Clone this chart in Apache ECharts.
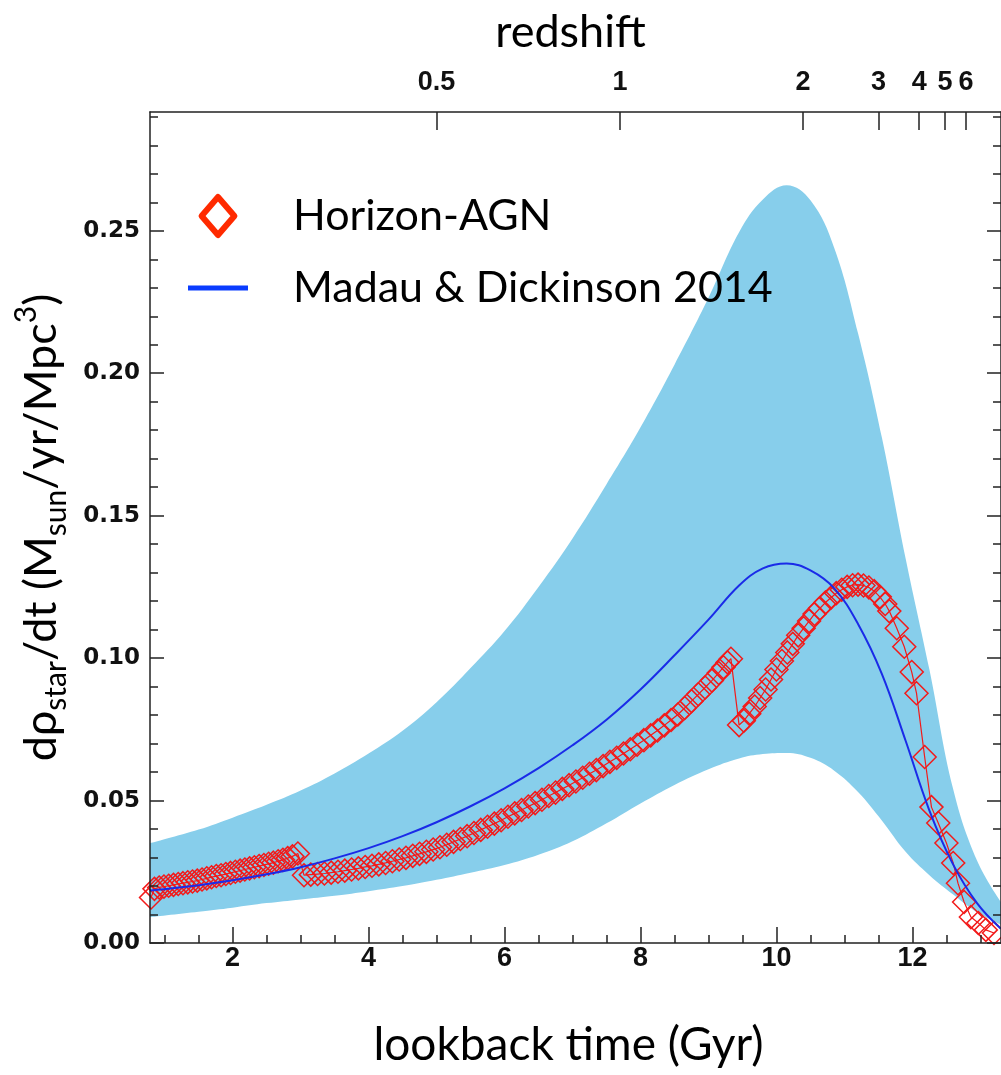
<!DOCTYPE html>
<html>
<head>
<meta charset="utf-8">
<script src="https://cdn.jsdelivr.net/npm/echarts@6/dist/echarts.min.js"></script>
<style>
html,body{margin:0;padding:0;background:#fff;}
#chart{width:1001px;height:1075px;}
</style>
</head>
<body>
<div id="chart"></div>
<script>
// ---- Data ----
// Shaded band (uncertainty envelope)
const bandTime  = [0.785, 1.5, 2.0, 2.5, 3.0, 3.5, 4.0, 4.5, 5.0, 5.5, 6.0, 6.5, 7.0, 7.5, 8.0, 8.5, 9.0, 9.45, 9.8, 10.15, 10.5, 10.85, 11.2, 11.55, 11.9, 12.25, 12.6, 12.95, 13.3];
const bandUpper = [0.0350, 0.0398, 0.0440, 0.0485, 0.0535, 0.0595, 0.0665, 0.0745, 0.0845, 0.0965, 0.1095, 0.1250, 0.1420, 0.1610, 0.1810, 0.2030, 0.2265, 0.2495, 0.2610, 0.2660, 0.2607, 0.2440, 0.2140, 0.1775, 0.1350, 0.0960, 0.0540, 0.0290, 0.0145];
const bandLower = [0.0091, 0.0110, 0.0124, 0.0140, 0.0153, 0.0166, 0.0182, 0.0200, 0.0222, 0.0247, 0.0274, 0.0310, 0.0357, 0.0420, 0.0490, 0.0555, 0.0610, 0.0648, 0.0663, 0.0667, 0.0650, 0.0605, 0.0530, 0.0430, 0.0320, 0.0238, 0.0170, 0.0108, 0.0065];

// Madau & Dickinson 2014 curve
const mdTime = [0.785, 1.5, 2.0, 2.5, 3.0, 3.5, 4.0, 4.5, 5.0, 5.5, 6.0, 6.5, 7.0, 7.5, 8.0, 8.5, 9.0, 9.45, 9.8, 10.15, 10.5, 10.85, 11.2, 11.55, 11.9, 12.25, 12.6, 12.95, 13.3];
const mdSFR  = [0.0184, 0.0203, 0.0220, 0.0241, 0.0266, 0.0297, 0.0333, 0.0375, 0.0424, 0.0480, 0.0543, 0.0614, 0.0694, 0.0784, 0.0890, 0.1010, 0.1135, 0.1255, 0.1315, 0.1332, 0.1308, 0.1245, 0.1120, 0.0945, 0.0710, 0.0465, 0.0275, 0.0140, 0.0050];

// Horizon-AGN simulation points
const horizonTime = [
  0.80, 0.85, 0.92, 0.99, 1.06, 1.13, 1.20, 1.27, 1.34, 1.41, 1.48, 1.55, 1.62, 1.69, 1.76, 1.83,
  1.90, 1.97, 2.04, 2.11, 2.18, 2.25, 2.32, 2.39, 2.46, 2.53, 2.60, 2.67, 2.74, 2.81, 2.88, 2.96,
  3.05, 3.15, 3.25, 3.35, 3.45, 3.55, 3.65, 3.75, 3.85, 3.95, 4.05, 4.15, 4.25, 4.35, 4.45, 4.55,
  4.65, 4.75, 4.85, 4.95, 5.05, 5.15, 5.25, 5.35, 5.45, 5.55, 5.65, 5.75, 5.85, 5.95, 6.05, 6.15,
  6.25, 6.35, 6.45, 6.55, 6.65, 6.75, 6.85, 6.95, 7.05, 7.15, 7.25, 7.35, 7.45, 7.55, 7.65, 7.75,
  7.85, 7.95, 8.05, 8.15, 8.25, 8.35, 8.45, 8.55, 8.65, 8.75, 8.85, 8.95, 9.05, 9.15, 9.22, 9.28, 9.33,
  9.45, 9.52, 9.60, 9.68, 9.76, 9.84, 9.92, 10.00, 10.08, 10.16, 10.24, 10.32, 10.40, 10.48, 10.56,
  10.64, 10.72, 10.80, 10.88, 10.96, 11.04, 11.12, 11.20, 11.28, 11.36, 11.44, 11.52, 11.60, 11.66,
  11.77, 11.88, 11.99, 12.06, 12.18, 12.28, 12.38, 12.50, 12.60, 12.67, 12.76, 12.86, 12.97, 13.08, 13.20
];
const horizonSFR = [
  0.0160, 0.0190, 0.0195, 0.0198, 0.0201, 0.0204, 0.0207, 0.0210, 0.0213, 0.0216, 0.0219, 0.0223, 0.0227, 0.0231, 0.0235, 0.0238,
  0.0242, 0.0246, 0.0250, 0.0254, 0.0258, 0.0262, 0.0266, 0.0270, 0.0274, 0.0278, 0.0282, 0.0287, 0.0292, 0.0298, 0.0304, 0.0314,
  0.0238, 0.0240, 0.0242, 0.0244, 0.0247, 0.0250, 0.0254, 0.0258, 0.0262, 0.0267, 0.0271, 0.0276, 0.0281, 0.0287, 0.0293, 0.0299,
  0.0306, 0.0313, 0.0320, 0.0328, 0.0336, 0.0345, 0.0355, 0.0365, 0.0375, 0.0386, 0.0397, 0.0408, 0.0419, 0.0431, 0.0443, 0.0455,
  0.0467, 0.0479, 0.0491, 0.0503, 0.0516, 0.0528, 0.0541, 0.0554, 0.0567, 0.0580, 0.0594, 0.0607, 0.0621, 0.0636, 0.0650, 0.0665,
  0.0680, 0.0696, 0.0712, 0.0729, 0.0746, 0.0764, 0.0783, 0.0802, 0.0825, 0.0849, 0.0873, 0.0897, 0.0921, 0.0948, 0.0968, 0.0985, 0.0998,
  0.0765, 0.0780, 0.0805, 0.0830, 0.0860, 0.0890, 0.0925, 0.0960, 0.0990, 0.1020, 0.1050, 0.1080, 0.1105, 0.1130, 0.1155,
  0.1175, 0.1195, 0.1212, 0.1228, 0.1240, 0.1250, 0.1256, 0.1258, 0.1255, 0.1248, 0.1235, 0.1215, 0.1190, 0.1165,
  0.1105, 0.1040, 0.0951, 0.0877, 0.0653, 0.0477, 0.0421, 0.0351, 0.0281, 0.0210, 0.0144, 0.0091, 0.0070, 0.0046, 0.0035
];

// Axis ticks / labels
const xMajorTicks = [2, 4, 6, 8, 10, 12];
const xMinorTicks = [1, 1.5, 2.5, 3, 3.5, 4.5, 5, 5.5, 6.5, 7, 7.5, 8.5, 9, 9.5, 10.5, 11, 11.5, 12.5, 13];
const yMajorTicks = [0, 0.05, 0.10, 0.15, 0.20, 0.25];
const yMinorTicks = [0.01, 0.02, 0.03, 0.04, 0.06, 0.07, 0.08, 0.09, 0.11, 0.12, 0.13, 0.14, 0.16, 0.17, 0.18, 0.19, 0.21, 0.22, 0.23, 0.24, 0.26, 0.27, 0.28, 0.29];
const redshiftLabels   = ['0.5', '1', '2', '3', '4', '5', '6'];
const redshiftLookback = [5.00, 7.70, 10.39, 11.50, 12.10, 12.48, 12.79];

const X_MIN = 0.7848, X_MAX = 13.303;
const Y_MIN = 0, Y_MAX = 0.2917;

const AXIS_COLOR = '#222';
const TEXT_FONT = 'Lato';
const tickFontX = '"Liberation Sans Narrow", "Liberation Sans", Arial, sans-serif';
const tickFontY = '"DejaVu Sans", sans-serif';

function xAxisBase(extra) {
  return Object.assign({
    type: 'value', min: X_MIN, max: X_MAX, z: 10,
    splitLine: { show: false },
    axisLine: { show: false, onZero: false, lineStyle: { color: AXIS_COLOR, width: 1.5 } },
    axisTick: { show: true, inside: true, lineStyle: { color: AXIS_COLOR, width: 1.5 } },
    axisLabel: { show: false }
  }, extra);
}
function yAxisBase(extra) {
  return Object.assign({
    type: 'value', min: Y_MIN, max: Y_MAX, z: 10,
    splitLine: { show: false },
    axisLine: { show: false, onZero: false, lineStyle: { color: AXIS_COLOR, width: 1.5 } },
    axisTick: { show: true, inside: true, lineStyle: { color: AXIS_COLOR, width: 1.5 } },
    axisLabel: { show: false }
  }, extra);
}

const chart = echarts.init(document.getElementById('chart'), null, { renderer: 'canvas' });

const option = {
  animation: false,
  backgroundColor: '#ffffff',
  grid: { left: 150, top: 112, width: 855, height: 831, containLabel: false },
  legend: {
    orient: 'vertical', left: 183, top: 186,
    itemWidth: 60, itemHeight: 38, itemGap: 22,
    symbolKeepAspect: true,
    selectedMode: false,
    textStyle: { fontFamily: TEXT_FONT, fontSize: 43, color: '#000', lineHeight: 50, padding: [0, 0, 0, 40] },
    data: [
      { name: 'Horizon-AGN', icon: 'path://M19,0L38,22L19,44L0,22Z',
        itemStyle: { color: 'rgba(255,255,255,0)', borderColor: '#ff2a00', borderWidth: 6, borderJoin: 'round' } },
      { name: 'Madau & Dickinson 2014', icon: 'path://M0,0L60,0L60,5L0,5Z',
        itemStyle: { color: '#0a3cff', borderWidth: 0 } }
    ]
  },
  xAxis: [
    xAxisBase({
      position: 'bottom',
      axisLine: { show: true, onZero: false, lineStyle: { color: AXIS_COLOR, width: 1.5 } },
      axisTick: { show: true, inside: true, length: 16, customValues: xMajorTicks, lineStyle: { color: AXIS_COLOR, width: 1.5 } },
      axisLabel: { show: true, customValues: xMajorTicks, margin: 2, fontFamily: tickFontX, fontWeight: 'bold', fontSize: 27, color: '#111' },
      name: 'lookback time (Gyr)', nameLocation: 'middle', nameGap: 79,
      nameTextStyle: { fontFamily: TEXT_FONT, fontSize: 46, color: '#000', padding: [0, 14, 0, 0] }
    }),
    xAxisBase({
      position: 'bottom',
      axisTick: { show: true, inside: true, length: 8, customValues: xMinorTicks, lineStyle: { color: AXIS_COLOR, width: 1.5 } }
    }),
    xAxisBase({
      position: 'top',
      axisLine: { show: true, onZero: false, lineStyle: { color: AXIS_COLOR, width: 1.5 } },
      axisTick: { show: true, inside: true, length: 18, customValues: redshiftLookback, lineStyle: { color: AXIS_COLOR, width: 1.5 } },
      axisLabel: {
        show: true, customValues: redshiftLookback, margin: 16,
        fontFamily: tickFontX, fontWeight: 'bold', fontSize: 27, color: '#111',
        formatter: function (v) {
          let best = 0;
          for (let i = 1; i < redshiftLookback.length; i++) {
            if (Math.abs(redshiftLookback[i] - v) < Math.abs(redshiftLookback[best] - v)) best = i;
          }
          return redshiftLabels[best];
        }
      },
      name: 'redshift', nameLocation: 'middle', nameGap: 57,
      nameTextStyle: { fontFamily: TEXT_FONT, fontSize: 45, color: '#000', padding: [0, 10, 0, 0] }
    })
  ],
  yAxis: [
    yAxisBase({
      position: 'left',
      axisLine: { show: true, onZero: false, lineStyle: { color: AXIS_COLOR, width: 1.5 } },
      axisTick: { show: true, inside: true, length: 14, customValues: yMajorTicks, lineStyle: { color: AXIS_COLOR, width: 1.5 } },
      axisLabel: {
        show: true, customValues: yMajorTicks, margin: 10,
        fontFamily: tickFontY, fontWeight: 'bold', fontSize: 23, color: '#111',
        formatter: function (v) { return v.toFixed(2); }
      },
      name: 'dρ{sub|star}/dt (M{sub|sun}/yr/Mpc{sup|3})',
      nameLocation: 'middle', nameRotate: 90, nameGap: 79,
      nameTextStyle: {
        fontFamily: TEXT_FONT, fontSize: 45, color: '#000', lineHeight: 60,
        rich: {
          sub: { fontFamily: TEXT_FONT, fontSize: 30, color: '#000', lineHeight: 34, verticalAlign: 'bottom' },
          sup: { fontFamily: TEXT_FONT, fontSize: 30, color: '#000', lineHeight: 34, verticalAlign: 'top' }
        }
      }
    }),
    yAxisBase({
      position: 'left',
      axisTick: { show: true, inside: true, length: 8, customValues: yMinorTicks, lineStyle: { color: AXIS_COLOR, width: 1.5 } }
    }),
    yAxisBase({
      position: 'right',
      axisLine: { show: true, onZero: false, lineStyle: { color: AXIS_COLOR, width: 1.5 } },
      axisTick: { show: true, inside: true, length: 14, customValues: yMajorTicks, lineStyle: { color: AXIS_COLOR, width: 1.5 } }
    }),
    yAxisBase({
      position: 'right',
      axisTick: { show: true, inside: true, length: 8, customValues: yMinorTicks, lineStyle: { color: AXIS_COLOR, width: 1.5 } }
    })
  ],
  series: [
    {
      // upper envelope, filled down to zero
      name: 'band-upper', type: 'line', smooth: 0.4,
      xAxisIndex: 0, yAxisIndex: 0,
      symbol: 'none', silent: true, z: 1,
      lineStyle: { width: 0, opacity: 0 },
      areaStyle: { color: '#87ceeb', opacity: 1, origin: 'start' },
      data: bandTime.map((t, i) => [t, bandUpper[i]])
    },
    {
      // lower envelope, filled white down to zero (leaves the band visible)
      name: 'band-lower', type: 'line', smooth: 0.4,
      xAxisIndex: 0, yAxisIndex: 0,
      symbol: 'none', silent: true, z: 2,
      lineStyle: { width: 0, opacity: 0 },
      areaStyle: { color: '#ffffff', opacity: 1, origin: 'start' },
      data: bandTime.map((t, i) => [t, bandLower[i]])
    },
    {
      name: 'Horizon-AGN', type: 'line',
      xAxisIndex: 0, yAxisIndex: 0, z: 3,
      symbol: 'diamond', symbolSize: 23, showSymbol: true,
      itemStyle: { color: 'rgba(255,255,255,0)', borderColor: '#f21a1a', borderWidth: 1.5 },
      lineStyle: { color: '#f21a1a', width: 1.2 },
      data: horizonTime.map((t, i) => [t, horizonSFR[i]])
    },
    {
      name: 'Madau & Dickinson 2014', type: 'line', smooth: 0.4,
      xAxisIndex: 0, yAxisIndex: 0, z: 4,
      symbol: 'none',
      lineStyle: { color: '#1a2be8', width: 2 },
      data: mdTime.map((t, i) => [t, mdSFR[i]])
    }
  ]
};
chart.setOption(option);
</script>
</body>
</html>
